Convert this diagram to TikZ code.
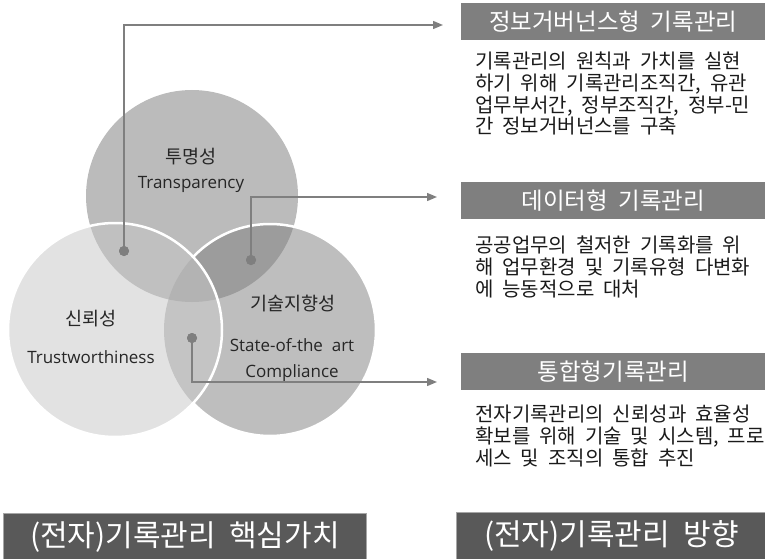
\documentclass[tikz,border=0pt]{standalone}
\usepackage{fontspec}
\setmainfont{Noto Sans CJK KR}
\newfontfamily\latinfont{Open Sans}
\newfontfamily\bodyfont[WordSpace=1.6]{Noto Sans CJK KR}
\newfontfamily\widefont[WordSpace=2]{Noto Sans CJK KR}
\usetikzlibrary{arrows.meta}
\definecolor{cT}{HTML}{BBBBBB}
\definecolor{cR}{HTML}{BEBEBE}
\definecolor{cL}{HTML}{E2E2E2}
\definecolor{cTR}{HTML}{9C9C9C}
\definecolor{cTL}{HTML}{C0C0C0}
\definecolor{cLR}{HTML}{C4C4C4}
\definecolor{cTLR}{HTML}{B3B3B3}
\definecolor{lineg}{HTML}{7F7F7F}
\definecolor{headg}{HTML}{7F7F7F}
\definecolor{footg}{HTML}{595959}
\definecolor{footb}{HTML}{A6A6A6}
\definecolor{labelc}{HTML}{262626}
\definecolor{bodyc}{HTML}{1A1A1A}
\tikzset{
  dotnode/.style={circle,fill=lineg,minimum size=10pt,inner sep=0pt},
  conn/.style={draw=lineg,line width=1.4pt,-{Triangle[length=10pt,width=8pt]}},
  headbox/.style={anchor=north west,fill=headg,text=white,minimum width=304pt,minimum height=37pt,inner sep=0pt,font=\widefont\fontsize{23.5}{26}\selectfont},
  bodytext/.style={anchor=north west,align=left,inner sep=0pt,text=bodyc,font=\bodyfont\fontsize{20}{21.7}\selectfont},
  footbox/.style={anchor=north west,fill=footg,draw=footb,line width=0.8pt,text=white,minimum height=48pt,inner sep=0pt,font=\widefont\fontsize{30}{34}\selectfont},
  kolabel/.style={text=labelc,inner sep=0pt,font=\fontsize{18.5}{21}\selectfont},
  enlabel/.style={text=labelc,inner sep=0pt,font=\latinfont\fontsize{17}{20}\selectfont},
  borderw/.style={draw=white,line width=2.5pt}
}
\begin{document}
\begin{tikzpicture}[x=1pt,y=-1pt]
\useasboundingbox (0,0) rectangle (765,559);
% circle centres
\coordinate (ct) at (192,196);
\coordinate (cl) at (115,330);
\coordinate (cr) at (270,330);
% top circle
\fill[cT] (ct) circle[radius=106pt];
% right circle
\fill[cR] (cr) circle[radius=106pt];
\begin{scope}
  \clip (ct) circle[radius=106pt];
  \fill[cTR] (cr) circle[radius=106pt];
\end{scope}
\draw[borderw] (cr) circle[radius=106pt];
% left circle
\fill[cL] (cl) circle[radius=107pt];
\begin{scope}
  \clip (cl) circle[radius=107pt];
  \fill[cTL] (ct) circle[radius=106pt];
  \fill[cLR] (cr) circle[radius=106pt];
  \clip (ct) circle[radius=106pt];
  \fill[cTLR] (cr) circle[radius=106pt];
\end{scope}
\draw[borderw] (cl) circle[radius=107pt];
% circle labels
\node[kolabel] (t1) at (191,157) {투명성};
\node[enlabel] (t2) at (191,184) {Transparency};
\node[kolabel] (l1) at (91,319) {신뢰성};
\node[enlabel] (l2) at (91,357) {Trustworthiness};
\node[kolabel] (r1) at (293,304) {기술지향성};
\node[enlabel] (r2) at (292,345) {State-of-the\ \ art};
\node[enlabel] (r3) at (292,373) {Compliance};
% dots and connectors
\coordinate (e1) at (443,25);
\coordinate (e2) at (437,197);
\coordinate (e3) at (437,382);
\node[dotnode] (d1) at (124,251) {};
\node[dotnode] (d2) at (251,260) {};
\node[dotnode] (d3) at (192,338) {};
\draw[conn] (d1.center) |- (e1);
\draw[conn] (d2.center) |- (e2);
\draw[conn] (d3.center) |- (e3);
\node[dotnode] at (d1) {};
\node[dotnode] at (d2) {};
\node[dotnode] at (d3) {};
% right side boxes
\node[headbox] (h1) at (461,3) {정보거버넌스형 기록관리};
\node[bodytext] (b1) at (475,52) {기록관리의 원칙과 가치를 실현\\하기 위해 기록관리조직간, 유관\\업무부서간, 정부조직간, 정부-민\\간 정보거버넌스를 구축};
\node[headbox] (h2) at (461,182) {데이터형 기록관리};
\node[bodytext] (b2) at (475,236) {공공업무의 철저한 기록화를 위\\해 업무환경 및 기록유형 다변화\\에 능동적으로 대처};
\node[headbox] (h3) at (461,353) {통합형기록관리};
\node[bodytext] (b3) at (475,405) {전자기록관리의 신뢰성과 효율성\\확보를 위해 기술 및 시스템, 프로\\세스 및 조직의 통합 추진};
% footer boxes
\node[footbox,minimum width=363pt] (f1) at (3,513) {(전자)기록관리 핵심가치};
\node[footbox,minimum width=310pt] (f2) at (456,512) {(전자)기록관리 방향};
\end{tikzpicture}
\end{document}
